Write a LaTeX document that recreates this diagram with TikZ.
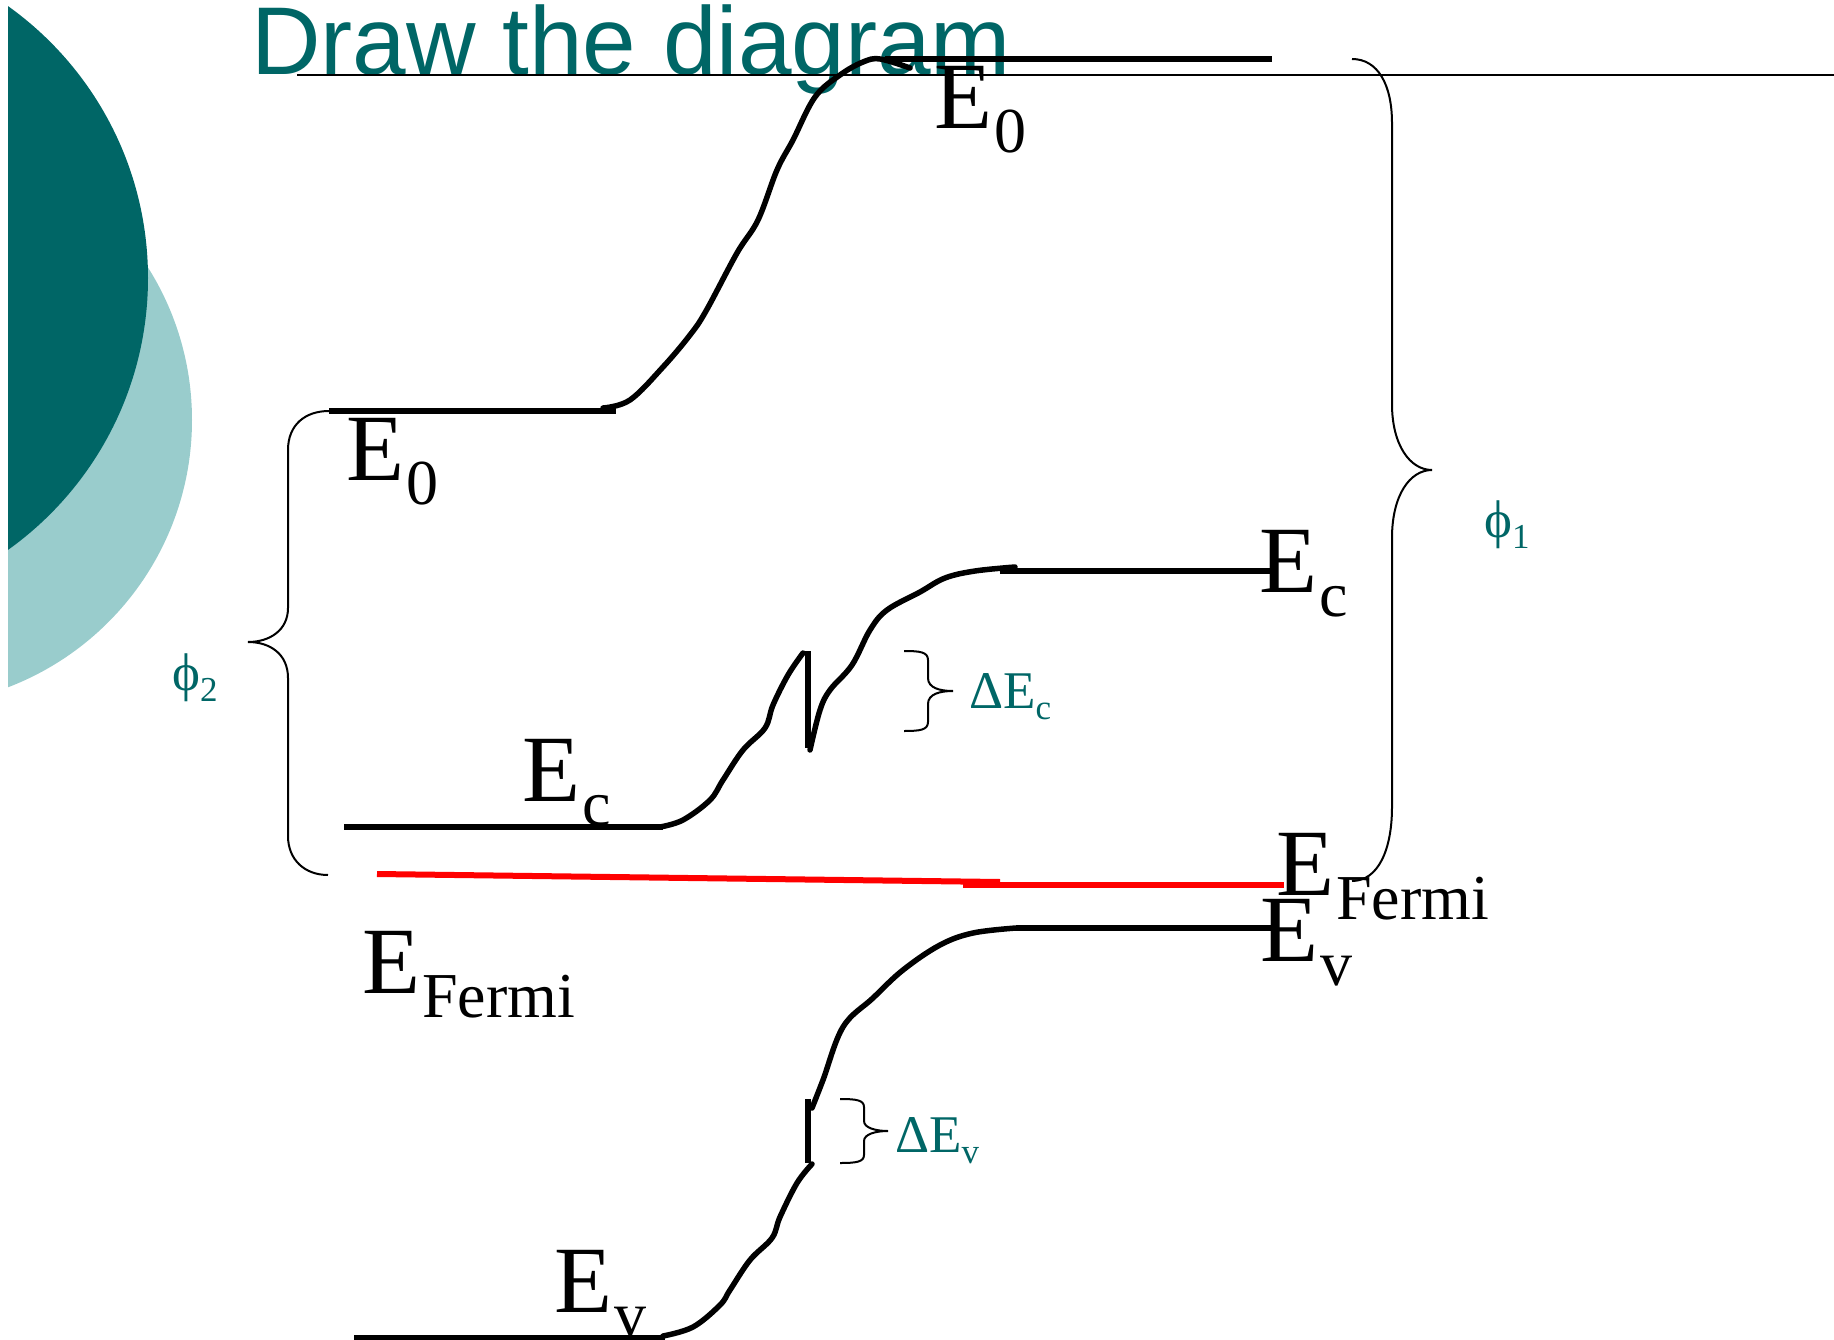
\documentclass[tikz,border=0pt]{standalone}
\usepackage{fontspec}
\setmainfont{Liberation Serif}
\newfontfamily\titlefont{Liberation Sans}
\usepackage{xcolor}
\usepackage{tikz}
\definecolor{primary}{HTML}{006666}
\definecolor{secondary}{HTML}{99CCCC}
\definecolor{fermi}{HTML}{FF0000}
\newcommand{\biglabel}[1]{E\kern2pt\raisebox{-24pt}{\fontsize{64}{64}\selectfont #1}}
\newcommand{\smalllabel}[2]{#1\raisebox{-11pt}{\fontsize{35}{35}\selectfont #2}}
\tikzset{
  level/.style={line width=6pt, black},
  band/.style={line width=5.5pt, black, line cap=round},
  bracket/.style={line width=2pt, black},
  biglab/.style={anchor=base west, inner sep=0pt, font=\fontsize{95}{95}\selectfont},
  smalllab/.style={anchor=base west, inner sep=0pt, text=primary, font=\fontsize{53}{53}\selectfont}
}

\begin{document}
\begin{tikzpicture}[x=1pt, y=-1pt]
    \useasboundingbox (0, 0) rectangle (1834, 1340);
    \clip (0, 0) rectangle (1834, 1340);

    % Corner discs
    \begin{scope}
      \clip (8, 0) rectangle (300, 720);
      \fill[secondary] (-94, 420) circle [radius=286];
      \fill[primary] (-186, 278) circle [radius=334];
    \end{scope}

    % Title
    \node[anchor=base west, inner sep=0pt, text=primary, font=\titlefont\fontsize{96.3}{96}\selectfont] (title) at (251, 75) {Draw the diagram};
    \coordinate (ruleL) at (297, 75);
    \coordinate (ruleR) at (1834, 75);
    \draw[line width=2.6pt] (ruleL) -- (ruleR);

    % Levels, left side
    \draw[level] (329, 411) -- (616, 411);
    \draw[level] (344, 827) -- (663, 827);
    \draw[level] (354, 1338) -- (665, 1338);

    % Levels, right side
    \draw[level] (885, 59) -- (1272, 59);
    \draw[level] (1000, 571) -- (1272, 571);
    \draw[level] (1016, 928) -- (1272, 928);

    % Fermi level
    \draw[level, fermi] (377, 874) -- (1000, 882);
    \draw[level, fermi] (963, 885) -- (1284, 885);

    % Bands
    \draw[band] plot[smooth, tension=0.6] coordinates {(603, 408) (630, 400) (663, 367) (690, 335) (706, 311) (737, 253) (758, 220) (777, 170) (793, 140) (815, 97) (840, 75) (863, 62) (880, 59) (910, 68)};
    \draw[band] plot[smooth, tension=0.6] coordinates {(660, 827) (683, 820) (710, 800) (723, 780) (743, 750) (765, 728) (773, 705) (788, 675) (803, 653)};
    \draw[level] (808, 651) -- (808, 748);
    \draw[band] plot[smooth, tension=0.6] coordinates {(810, 750) (820, 710) (830, 690) (852, 665) (870, 630) (887, 610) (920, 592) (945, 578) (975, 571) (1015, 567)};
    \draw[band] plot[smooth, tension=0.6] coordinates {(663, 1336) (693, 1327) (720, 1305) (730, 1290) (750, 1260) (772, 1238) (780, 1217) (797, 1183) (812, 1164)};
    \draw[level] (808, 1099) -- (808, 1163);
    \draw[band] plot[smooth, tension=0.6] coordinates {(812, 1108) (823, 1080) (843, 1027) (873, 998) (903, 970) (940, 945) (973, 933) (1016, 928)};

    % Braces
    \draw[bracket] (904, 651) .. controls (920, 651) and (928, 652) .. (928, 660) -- (928, 678) .. controls (928, 688) and (940, 691) .. (953, 691) .. controls (940, 691) and (928, 694) .. (928, 704) -- (928, 722) .. controls (928, 730) and (920, 731) .. (904, 731);
    \draw[bracket] (840, 1099) .. controls (856, 1099) and (864, 1100) .. (864, 1107) -- (864, 1121) .. controls (864, 1128) and (876, 1131) .. (888, 1131) .. controls (876, 1131) and (864, 1134) .. (864, 1141) -- (864, 1155) .. controls (864, 1162) and (856, 1163) .. (840, 1163);
    \draw[bracket] (329, 411) .. controls (305, 411) and (288, 425) .. (288, 450) -- (288, 608) .. controls (288, 630) and (270, 642) .. (248, 642) .. controls (270, 642) and (288, 654) .. (288, 678) -- (288, 836) .. controls (288, 860) and (305, 875) .. (328, 875);
    \draw[bracket] (1352, 59) .. controls (1378, 59) and (1392, 85) .. (1392, 123) -- (1392, 404) .. controls (1392, 445) and (1410, 470) .. (1432, 470) .. controls (1410, 470) and (1392, 495) .. (1392, 538) -- (1392, 807) .. controls (1392, 850) and (1378, 881) .. (1352, 881);

    % Labels
    \node[biglab] (e0r) at (934, 129) {\biglabel{0}};
    \node[biglab] (e0l) at (346, 480) {\biglabel{0}};
    \node[biglab] (ecr) at (1259, 592) {\biglabel{c}};
    \node[biglab] (ecl) at (522, 801) {\biglabel{c}};
    \node[biglab] (efl) at (362, 993) {\biglabel{Fermi}};
    \node[biglab] (efr) at (1276, 895) {\biglabel{Fermi}};
    \node[biglab] (evr) at (1260, 961) {\biglabel{v}};
    \node[biglab] (evl) at (554, 1312) {\biglabel{v}};
    \node[smalllab] (dec) at (969, 708) {\smalllabel{ΔE}{c}};
    \node[smalllab] (dev) at (895, 1152) {\smalllabel{ΔE}{v}};
    \node[smalllab] (phil) at (172, 690) {\smalllabel{ϕ}{2}};
    \node[smalllab] (phir) at (1484, 537) {\smalllabel{ϕ}{1}};
\end{tikzpicture}
\end{document}
